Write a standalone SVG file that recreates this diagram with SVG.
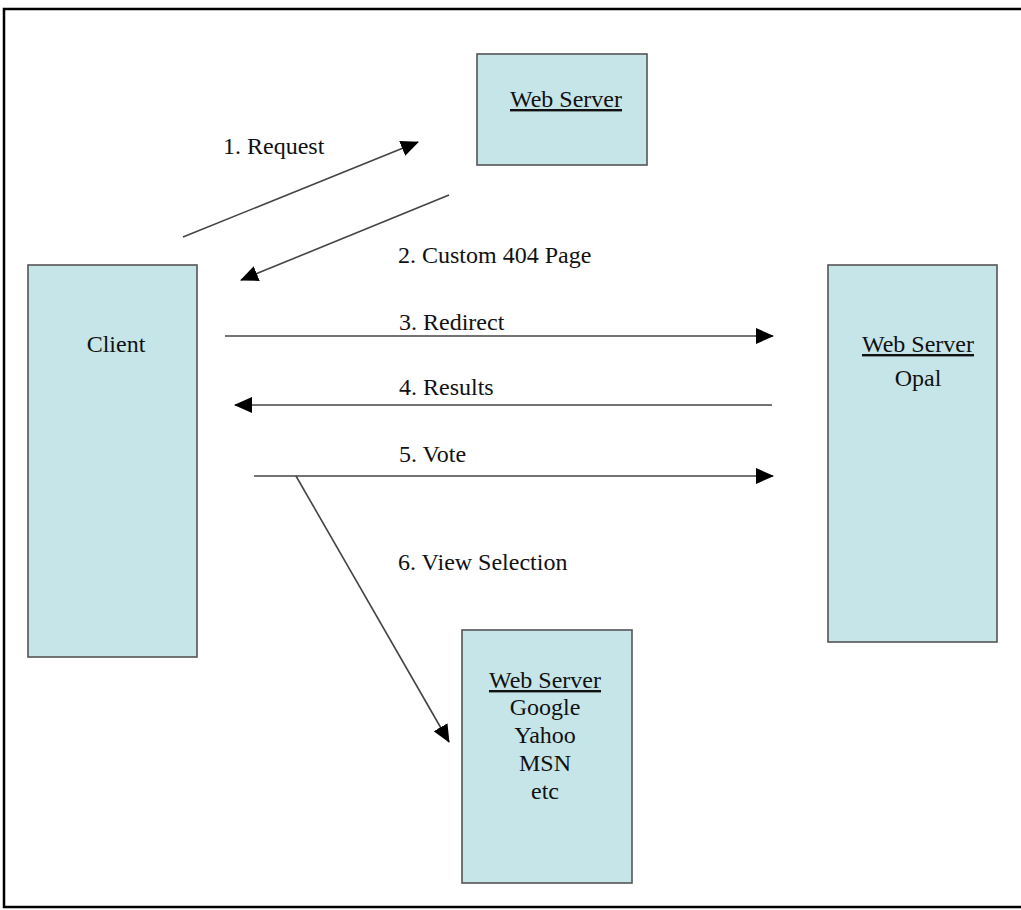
<svg xmlns="http://www.w3.org/2000/svg" width="1021" height="910" viewBox="0 0 1021 910">
<defs>
<marker id="ah" markerUnits="userSpaceOnUse" viewBox="0 0 18 16" markerWidth="18" markerHeight="16" refX="17" refY="8" orient="auto">
<path d="M0,0 L18,8 L0,16 z" fill="#000"/>
</marker>
<style>
.box{fill:#C6E5E8;stroke:#555;stroke-width:1.6}
.t{font-family:"Liberation Serif","Times New Roman",serif;font-size:24px;fill:#111}
.c{text-anchor:middle}
.u{text-decoration:underline}
.ln{stroke:#444;stroke-width:1.6;fill:none;marker-end:url(#ah)}
</style>
</defs>
<rect x="0" y="0" width="1021" height="910" fill="#fff"/>
<rect x="4" y="9" width="1030" height="898" fill="none" stroke="#000" stroke-width="2.5"/>
<g id="web-server-top">
<rect class="box" x="477" y="54" width="170" height="111"/>
<text class="t c u" x="566" y="107">Web Server</text>
</g>
<g id="client">
<rect class="box" x="28" y="265" width="169" height="392"/>
<text class="t c" x="116" y="352">Client</text>
</g>
<g id="web-server-opal">
<rect class="box" x="828" y="265" width="169" height="377"/>
<text class="t c u" x="918" y="352">Web Server</text>
<text class="t c" x="918" y="386">Opal</text>
</g>
<g id="web-server-search">
<rect class="box" x="462" y="630" width="170" height="253"/>
<text class="t c u" x="545" y="688">Web Server</text>
<text class="t c" x="545" y="715">Google</text>
<text class="t c" x="545" y="743">Yahoo</text>
<text class="t c" x="545" y="771">MSN</text>
<text class="t c" x="545" y="799">etc</text>
</g>
<g id="connectors">
<line class="ln" x1="183" y1="237" x2="418" y2="142"/>
<line class="ln" x1="449" y1="195" x2="241" y2="280"/>
<line class="ln" x1="225" y1="336" x2="773" y2="336"/>
<line class="ln" x1="772" y1="405" x2="235" y2="405"/>
<line class="ln" x1="254" y1="476" x2="773" y2="476"/>
<line class="ln" x1="296" y1="476" x2="449" y2="742"/>
</g>
<g id="labels">
<text class="t" x="223" y="154">1. Request</text>
<text class="t" x="398" y="263">2. Custom 404 Page</text>
<text class="t" x="399" y="330">3. Redirect</text>
<text class="t" x="399" y="395">4. Results</text>
<text class="t" x="399" y="462">5. Vote</text>
<text class="t" x="398" y="570">6. View Selection</text>
</g>
</svg>
